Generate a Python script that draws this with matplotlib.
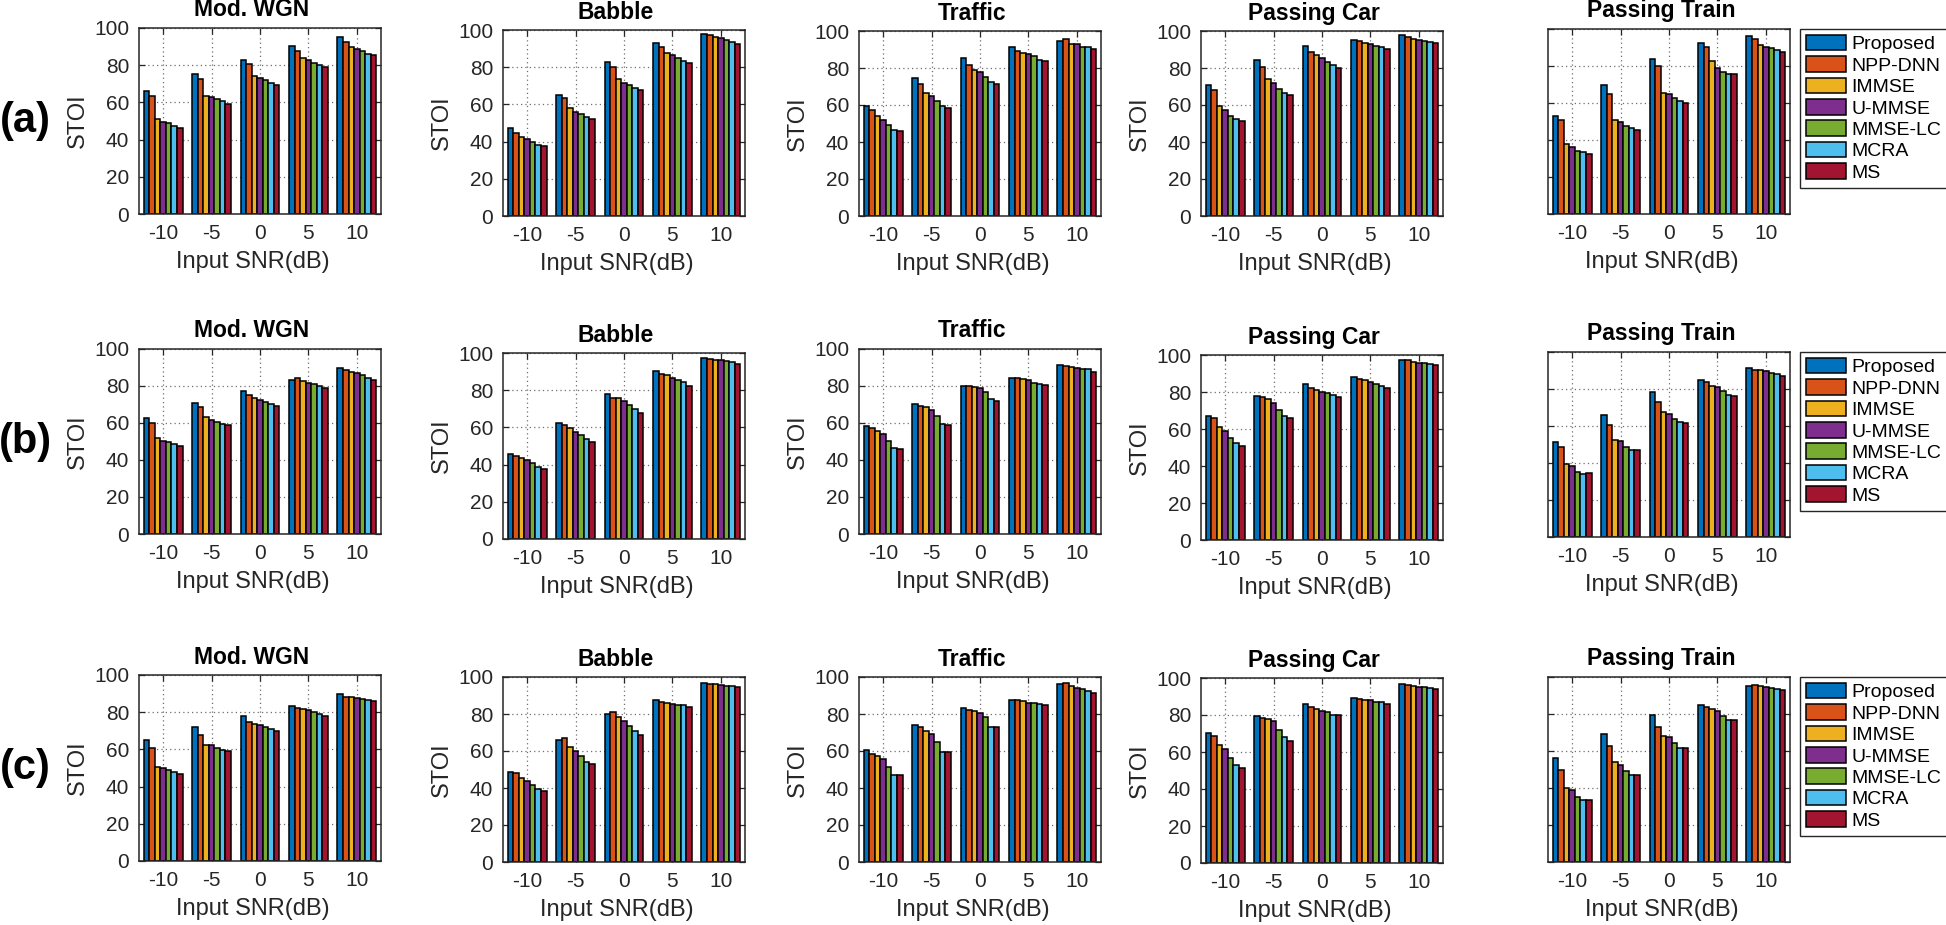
import numpy as np
import matplotlib
matplotlib.use("Agg")
import matplotlib.pyplot as plt

# ---------------- data ----------------
snr_labels = ["-10", "-5", "0", "5", "10"]
methods = ["Proposed", "NPP-DNN", "IMMSE", "U-MMSE", "MMSE-LC", "MCRA", "MS"]
noises = ["Mod. WGN", "Babble", "Traffic", "Passing Car", "Passing Train"]
row_labels = ["(a)", "(b)", "(c)"]

# each array: one row per SNR group, one column per method
a_mod_wgn = [[66.0, 63.5, 51.0, 49.7, 48.8, 47.4, 46.5],
             [75.0, 72.5, 63.2, 62.8, 62.0, 60.5, 59.4],
             [82.6, 80.4, 74.0, 72.9, 71.8, 70.4, 69.1],
             [90.1, 87.4, 84.0, 82.9, 81.1, 79.9, 78.8],
             [95.0, 92.3, 89.8, 88.9, 87.4, 86.2, 85.3]]
a_babble = [[47.3, 44.8, 42.3, 41.3, 40.0, 38.4, 37.5],
            [65.0, 63.6, 57.9, 56.1, 54.7, 53.0, 52.0],
            [82.7, 79.9, 73.5, 71.7, 70.3, 68.7, 67.5],
            [93.0, 91.1, 87.6, 86.3, 84.7, 83.4, 82.2],
            [98.0, 97.3, 96.5, 95.5, 94.5, 93.5, 92.3]]
a_traffic = [[59.5, 57.4, 53.8, 51.8, 49.1, 46.4, 45.7],
             [74.6, 71.4, 66.4, 64.6, 62.2, 59.4, 58.5],
             [85.3, 81.7, 79.1, 77.7, 75.4, 72.7, 71.6],
             [91.2, 89.4, 88.3, 87.8, 86.5, 84.4, 83.6],
             [94.8, 95.5, 93.2, 92.8, 91.5, 91.3, 90.3]]
a_car = [[71.0, 68.3, 59.5, 57.2, 54.3, 52.3, 51.1],
         [84.2, 80.4, 74.1, 71.8, 68.7, 66.7, 65.5],
         [91.7, 88.7, 87.2, 85.6, 83.5, 81.7, 80.0],
         [95.3, 94.4, 93.3, 92.8, 92.1, 91.2, 90.3],
         [97.8, 96.5, 95.5, 95.2, 94.5, 94.0, 93.3]]
a_train = [[53.0, 50.8, 37.7, 36.4, 34.2, 33.7, 32.6],
           [69.7, 65.0, 50.8, 49.7, 47.4, 46.5, 45.2],
           [83.8, 80.2, 65.2, 64.7, 62.5, 61.3, 60.2],
           [92.4, 90.1, 82.5, 78.7, 76.9, 75.9, 75.7],
           [96.0, 94.8, 91.2, 90.5, 89.5, 88.6, 87.4]]

b_mod_wgn = [[62.9, 60.0, 51.7, 50.3, 49.5, 48.5, 47.7],
             [70.8, 68.8, 63.1, 61.6, 60.5, 59.6, 58.9],
             [77.3, 75.3, 73.5, 72.3, 71.4, 70.3, 69.4],
             [83.4, 84.1, 82.9, 81.6, 80.9, 80.2, 78.9],
             [89.7, 88.5, 87.4, 86.8, 85.8, 84.1, 83.2]]
b_babble = [[45.9, 44.8, 43.7, 42.4, 40.6, 38.7, 37.8],
            [62.6, 61.3, 59.7, 57.7, 56.1, 53.6, 52.3],
            [77.8, 76.0, 76.0, 74.2, 72.0, 69.9, 67.9],
            [90.1, 88.5, 88.1, 86.5, 85.6, 84.3, 82.4],
            [97.5, 97.0, 96.5, 96.0, 95.5, 95.0, 94.0]]
b_traffic = [[58.6, 57.1, 55.5, 53.9, 50.1, 46.5, 45.8],
             [70.5, 69.0, 68.6, 67.2, 63.8, 59.6, 58.9],
             [80.0, 80.2, 79.5, 78.9, 76.9, 72.8, 71.7],
             [84.5, 84.5, 84.0, 83.2, 81.4, 81.1, 80.5],
             [91.5, 90.6, 90.1, 89.7, 89.2, 89.0, 87.4]]
b_car = [[67.2, 65.9, 60.9, 58.9, 55.3, 52.3, 51.0],
         [77.8, 77.1, 76.2, 73.9, 70.1, 67.2, 65.8],
         [84.5, 82.2, 81.1, 80.0, 79.3, 78.6, 77.5],
         [88.3, 87.2, 86.3, 85.4, 84.5, 83.1, 82.3],
         [97.2, 97.5, 96.0, 95.8, 95.5, 95.0, 94.5]]
b_train = [[51.4, 48.5, 39.3, 38.4, 35.1, 34.1, 34.4],
           [65.9, 60.5, 52.6, 51.9, 48.6, 47.0, 47.0],
           [78.2, 73.2, 67.4, 66.7, 64.0, 62.2, 61.6],
           [84.9, 83.8, 81.6, 80.9, 78.7, 76.6, 76.4],
           [91.5, 90.5, 90.3, 89.9, 88.8, 87.9, 86.8]]

c_mod_wgn = [[65.0, 60.5, 50.3, 50.1, 49.0, 47.8, 47.0],
             [72.0, 68.0, 62.5, 62.1, 60.9, 59.8, 58.9],
             [77.9, 74.9, 73.8, 72.9, 71.8, 70.7, 69.7],
             [83.3, 82.4, 81.7, 81.0, 80.1, 79.0, 78.1],
             [89.6, 88.0, 88.0, 87.6, 87.1, 86.7, 85.8]]
c_babble = [[48.8, 47.9, 45.2, 43.8, 41.8, 39.5, 38.6],
            [66.1, 67.0, 62.2, 59.8, 57.5, 54.2, 53.0],
            [80.1, 81.1, 78.5, 76.2, 73.7, 70.9, 68.6],
            [87.8, 86.5, 85.9, 85.3, 84.9, 84.6, 84.0],
            [96.5, 96.3, 96.0, 95.5, 95.3, 95.0, 94.5]]
c_traffic = [[60.5, 58.4, 57.3, 55.9, 51.4, 46.8, 46.8],
             [73.9, 73.0, 70.8, 69.2, 64.9, 59.5, 59.5],
             [83.1, 82.0, 81.4, 80.4, 78.2, 72.8, 72.8],
             [87.4, 87.7, 86.8, 86.1, 86.0, 85.6, 84.7],
             [96.4, 96.8, 95.0, 94.1, 93.5, 92.3, 91.4]]
c_car = [[70.3, 68.5, 63.6, 61.4, 56.9, 53.2, 51.5],
         [79.3, 78.6, 77.8, 76.6, 72.1, 68.1, 66.1],
         [85.8, 84.5, 83.1, 82.3, 81.8, 80.2, 79.8],
         [89.0, 88.5, 88.1, 87.9, 87.2, 86.8, 86.1],
         [96.5, 96.2, 95.5, 95.2, 95.0, 94.5, 94.0]]
c_train = [[56.2, 49.9, 39.8, 39.1, 35.1, 33.7, 33.7],
           [69.4, 62.9, 53.9, 52.6, 49.0, 46.8, 46.8],
           [79.3, 73.0, 68.3, 67.6, 64.3, 61.8, 61.8],
           [84.9, 83.6, 82.5, 81.8, 78.7, 76.6, 76.6],
           [95.1, 95.7, 95.0, 94.4, 94.1, 93.5, 93.0]]

panels = [[a_mod_wgn, a_babble, a_traffic, a_car, a_train],
          [b_mod_wgn, b_babble, b_traffic, b_car, b_train],
          [c_mod_wgn, c_babble, c_traffic, c_car, c_train]]

colors = ["#0072BD", "#D95319", "#EDB120", "#7E2F8E", "#77AC30", "#4DBEEE", "#A2142F"]

# ---------------- layout (pixels) ----------------
W, H = 1946, 925
col_left = [139, 503, 859, 1201, 1548]
ax_w = 242
row_tb = [[(28, 214), (30, 216), (31, 216), (31, 216), (29, 214)],
          [(349, 534), (353, 539), (349, 534), (355, 540), (352, 537)],
          [(675, 861), (677, 862), (677, 862), (678, 863), (677, 862)]]

FONT = ["Liberation Sans", "DejaVu Sans"]
plt.rcParams["font.family"] = FONT

fig = plt.figure(figsize=(W / 100, H / 100), dpi=100)
fig.patch.set_facecolor("white")

n_series = len(methods)
group_w = 0.8
bw = group_w / n_series
xs = np.arange(1, len(snr_labels) + 1)
edge = "#262626"

for r in range(3):
    for c in range(5):
        top, bot = row_tb[r][c]
        h = bot - top
        ax = fig.add_axes([col_left[c] / W, 1 - bot / H, ax_w / W, h / H])
        vals = np.array(panels[r][c]).T  # methods x groups
        for j in range(n_series):
            off = (j - (n_series - 1) / 2) * bw
            ax.bar(xs + off, vals[j], width=bw, color=colors[j], edgecolor="black",
                   linewidth=1.1, label=methods[j], zorder=2)
        ax.set_xlim(0.5, 5.5)
        ax.set_ylim(0, 100)
        ax.set_xticks(xs)
        ax.set_xticklabels(snr_labels)
        ax.set_yticks(np.arange(0, 101, 20))
        ax.grid(True, linestyle=(0, (1, 2.5)), color="#6e6e6e", linewidth=0.9, zorder=0)
        ax.set_axisbelow(True)
        ax.tick_params(axis="both", direction="in", length=4, width=0.9, colors=edge,
                       labelsize=15, top=True, right=True, pad=7)
        for lab in ax.get_xticklabels() + ax.get_yticklabels():
            lab.set_color("#262626")
        for sp in ax.spines.values():
            sp.set_color(edge)
            sp.set_linewidth(1.1)
        if c == 4:
            ax.set_yticklabels([])
        else:
            ax.text(-61 / ax_w, 0.5, "STOI", transform=ax.transAxes, rotation=90,
                    ha="center", va="center", fontsize=17, color="#262626")
        ax.text(0.5 - 7 / ax_w, -48 / h, "Input SNR(dB)", transform=ax.transAxes,
                ha="center", va="center", fontsize=17, color="#262626")
        ax.text(0.5 - 8 / ax_w, 1 + 18 / h, noises[c], transform=ax.transAxes,
                ha="center", va="center", fontsize=16.5, fontweight="bold", color="black")
        if c == 0:
            fig.text(25 / W, 1 - ((top + bot) / 2) / H, row_labels[r], ha="center",
                     va="center", fontsize=30, fontweight="bold")
        if c == 4:
            leg = ax.legend(loc="upper left", bbox_to_anchor=((1800 - 1548) / ax_w, 1.0),
                            borderaxespad=0, fontsize=14, handlelength=2.05,
                            handleheight=0.85, handletextpad=0.3, labelspacing=0.15,
                            borderpad=0.3, fancybox=False, framealpha=1)
            leg.get_frame().set_edgecolor(edge)
            leg.get_frame().set_linewidth(1.0)

fig.savefig("out.png", dpi=100, facecolor="white")
